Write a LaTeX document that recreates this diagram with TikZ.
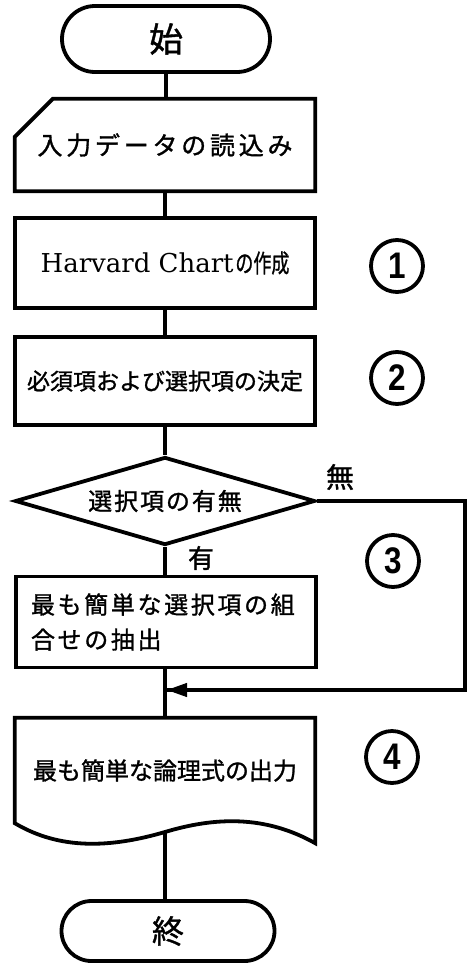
\documentclass[tikz,border=0pt]{standalone}
\usepackage{fontspec}
\usepackage{graphicx}
\usetikzlibrary{shapes.misc,shapes.geometric,arrows.meta,calc}
\newfontfamily\jp{Noto Sans CJK JP}[FakeBold=1.2]
\newfontfamily\numfont{Liberation Sans}
\newfontfamily\latinserif{DejaVu Serif}
\begin{document}
\begin{tikzpicture}[x=1pt,y=-1pt,
  outline/.style={line width=3.8pt},
  link/.style={line width=3.8pt},
  box/.style={minimum width=300pt, inner sep=0pt},
  term/.style={rounded rectangle, draw, outline, inner sep=0pt},
  numc/.style={circle, draw, line width=3.8pt, minimum size=52pt, inner sep=0pt,
    font=\numfont\bfseries\fontsize{37}{37}\selectfont},
  lbl/.style={inner sep=0pt}]
\useasboundingbox (0,0) rectangle (472,964);

% start
\node[term, minimum width=208pt, minimum height=66pt, font=\jp\fontsize{34}{34}\selectfont] (start) at (166,39) {始};

% manual input
\node[box, minimum height=92pt, font=\jp\fontsize{25}{25}\selectfont] (in) at (165,145)
  {\addfontfeatures{LetterSpace=15}入力データの読込み};
\draw[outline] ($(in.north west)+(38,0)$) -- (in.north east) -- (in.south east)
  -- (in.south west) -- ($(in.north west)+(0,38)$) -- cycle;

% Harvard chart
\node[box, draw, outline, minimum height=90pt] (hc) at (165,263)
  {{\latinserif\fontsize{26}{26}\selectfont Harvard Chart}\,\scalebox{0.72}[1]{\jp\fontsize{25}{25}\selectfont の作成}};

% selection
\node[box, draw, outline, minimum height=88pt, font=\jp\fontsize{23}{23}\selectfont] (sel) at (165,381)
  {必須項および選択項の決定};

% decision
\node[diamond, draw, outline, minimum width=300pt, minimum height=88pt, inner sep=0pt, aspect=3.4,
  font=\jp\fontsize{24}{24}\selectfont] (dec) at (165,501)
  {\addfontfeatures{LetterSpace=8}選択項の有無};

% extraction
\node[box, draw, outline, minimum height=91pt, text width=270pt, align=left,
  font=\jp\fontsize{24}{35}\selectfont] (ext) at (166,622)
  {\addfontfeatures{LetterSpace=11}最も簡単な選択項の組\\合せの抽出};

% output document
\node[box, minimum height=105pt, font=\jp\fontsize{24}{24}\selectfont] (out) at (165,770.5)
  {最も簡単な論理式の出力};
\coordinate (wave) at (165,832);
\draw[outline] (out.south west) -- (out.north west) -- (out.north east)
  -- ($(out.south east)+(0,20)$) .. controls (265,815) and (215,817) .. (wave)
  .. controls (110,848) and (60,850) .. (out.south west) -- cycle;

% end
\node[term, minimum width=213pt, minimum height=60pt, font=\jp\fontsize{32}{32}\selectfont] (end) at (168,931) {終};

% circled numbers
\node[numc] (c1) at (397,266) {\scalebox{0.85}[1]{1}};
\node[numc] (c2) at (397,378) {\scalebox{0.85}[1]{2}};
\node[numc] (c3) at (393,561) {\scalebox{0.85}[1]{3}};
\node[numc] (c4) at (392,757) {\scalebox{0.85}[1]{4}};

% connectors
\draw[link] (start.south) -- (start.south |- in.north);
\draw[link] (in.south) -- (hc.north);
\draw[link] (hc.south) -- (sel.north);
\draw[link] (sel.south) -- (dec.north);
\draw[link] (dec.south) -- (ext.north -| dec.south);
\draw[link] (ext.south -| dec.south) -- (out.north);
\draw[link] (wave) -- (end.north -| wave);
\coordinate (rt) at (465,501);
\coordinate (rb) at (465,690);
\coordinate (merge) at (167,690);
\draw[link, line join=miter] (dec.east) -- (rt) -- (rb) -- (merge);
\draw[line width=1pt, -{Triangle[length=20pt,width=14pt]}] (188,690) -- (merge);

% labels
\node[lbl, font=\jp\fontsize{28}{28}\selectfont] (no) at (340,477) {無};
\node[lbl, font=\jp\fontsize{26}{26}\selectfont] (yes) at (201,558) {有};
\end{tikzpicture}
\end{document}
